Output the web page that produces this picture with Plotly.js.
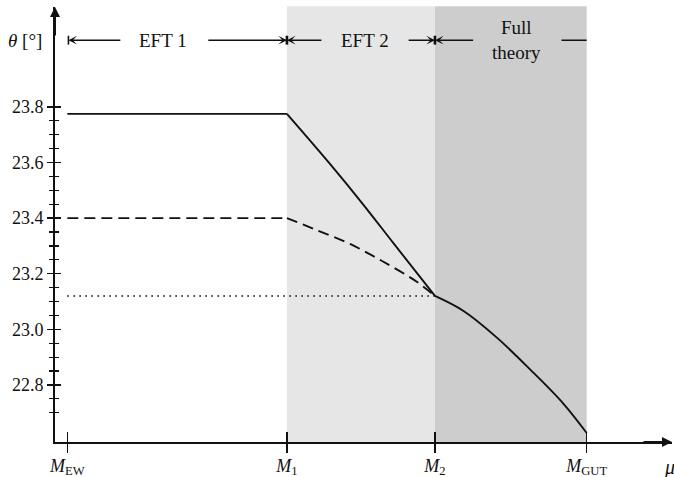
<!DOCTYPE html>
<html>
<head>
<meta charset="utf-8">
<script src="https://cdn.plot.ly/plotly-3.0.1.min.js"></script>
<style>html,body{margin:0;padding:0;background:#fff;}#plot{width:674px;height:477px;}</style>
</head>
<body>
<div id="plot"></div>
<script>
// ---- data ----
const scaleNames = ['<i>M</i><sub>EW</sub>', '<i>M</i><sub>1</sub>', '<i>M</i><sub>2</sub>', '<i>M</i><sub>GUT</sub>'];
const scaleLogMu = [2, 7.92, 11.91, 16];           // position of each matching scale (log mu)
const yTickVals = [22.8, 23.0, 23.2, 23.4, 23.6, 23.8];
const yTickText = ['22.8', '23.0', '23.2', '23.4', '23.6', '23.8'];
const yMinorVals = [22.7, 22.75, 22.85, 22.9, 22.95, 23.05, 23.1, 23.15, 23.25, 23.3, 23.35,
                    23.45, 23.5, 23.55, 23.65, 23.7, 23.75];

const solidMu    = [2, 7.92, 9.08, 9.94, 10.79, 11.91, 12.68, 13.58, 14.48, 15.37, 16];
const solidTheta = [23.775, 23.775, 23.595, 23.455, 23.31, 23.12, 23.066, 22.970, 22.855, 22.733, 22.627];

const dashedMu    = [2, 7.92, 8.72, 9.62, 10.52, 11.42, 11.91];
const dashedTheta = [23.40, 23.40, 23.357, 23.307, 23.243, 23.171, 23.12];

const dottedMu    = [2, 11.91];
const dottedTheta = [23.12, 23.12];

const regionNames = ['EFT 1', 'EFT 2', 'Full<br>theory'];

// ---- chart ----
const [mEW, m1, m2, mGUT] = scaleLogMu;
const xRange = [1.668, 18.30];
const yRange = [22.5946, 24.1594];
const rowY = 24.04;
const font = 'Liberation Serif, Times New Roman, serif';

// split a series at the matching scales so each regime is drawn as its own smooth piece
function pieces(xs, ys, style) {
  const cuts = [m1, m2];
  const out = [];
  let start = 0;
  for (let i = 1; i < xs.length; i++) {
    const isCut = cuts.some(c => Math.abs(xs[i] - c) < 1e-9);
    if (isCut || i === xs.length - 1) {
      out.push({x: xs.slice(start, i + 1), y: ys.slice(start, i + 1), mode: 'lines',
                line: Object.assign({shape: 'spline', smoothing: 1}, style), hoverinfo: 'skip'});
      start = i;
    }
  }
  return out;
}

const traces = [].concat(
  pieces(solidMu, solidTheta, {color: '#111', width: 1.9}),
  pieces(dashedMu, dashedTheta, {color: '#111', width: 1.9, dash: '11px,6px'}),
  [{x: dottedMu, y: dottedTheta, mode: 'lines', line: {color: '#111', width: 1.6, dash: '1.6px,4.4px'}, hoverinfo: 'skip'},
   {x: [], y: [], xaxis: 'x2', yaxis: 'y2', mode: 'lines', hoverinfo: 'skip'}]
);

function arrow(head, tail, hd) {
  return {x: head, y: rowY, ax: tail, ay: rowY, xref: 'x', yref: 'y', axref: 'x', ayref: 'y',
          text: '', showarrow: true, arrowhead: hd, arrowsize: 0.9, arrowwidth: 1.6, arrowcolor: '#111', standoff: 0, startstandoff: 0};
}
function bar(xv, w) {
  return {type: 'line', xref: 'x', yref: 'y', x0: xv, x1: xv, y0: rowY - 0.016, y1: rowY + 0.016,
          line: {color: '#111', width: w}};
}

const annotations = [
  arrow(mEW + 0.03, 3.47, 3),
  arrow(m1, 5.76, 3),
  arrow(m1, 8.89, 3),
  arrow(m2, 11.16, 3),
  arrow(m2, 12.98, 3),
  arrow(mGUT, 15.28, 0),
  {x: 4.58, y: rowY, xref: 'x', yref: 'y', text: regionNames[0], showarrow: false, font: {family: font, size: 19, color: '#111'}},
  {x: 10.03, y: rowY, xref: 'x', yref: 'y', text: regionNames[1], showarrow: false, font: {family: font, size: 19, color: '#111'}},
  {x: 14.11, y: rowY, xref: 'x', yref: 'y', text: regionNames[2], showarrow: false, font: {family: font, size: 19, color: '#111'}},
  // axis title theta
  {x: 0, y: rowY, xref: 'paper', yref: 'y', xanchor: 'right', xshift: -11, text: '<i>θ</i> [°]', showarrow: false,
   font: {family: font, size: 19, color: '#111'}},
  // axis title mu
  {x: 1, y: 0, xref: 'paper', yref: 'paper', xanchor: 'left', yanchor: 'top', xshift: -10, yshift: -12, text: '<i>μ</i>', showarrow: false,
   font: {family: font, size: 20, color: '#111'}},
  // axis arrows
  {x: 0, y: 1, xref: 'paper', yref: 'paper', ax: 0, ay: 30, text: '', showarrow: true, arrowhead: 2, arrowsize: 1, arrowwidth: 2, arrowcolor: '#111', standoff: 0},
  {x: 1, y: 0, xref: 'paper', yref: 'paper', ax: -30, ay: 0, text: '', showarrow: true, arrowhead: 2, arrowsize: 1, arrowwidth: 2, arrowcolor: '#111', standoff: 0}
];

const shapes = [
  {type: 'rect', xref: 'x', yref: 'paper', x0: m1, x1: m2, y0: 0, y1: 1.002, fillcolor: '#e6e6e6', line: {width: 0}, layer: 'below'},
  {type: 'rect', xref: 'x', yref: 'paper', x0: m2, x1: mGUT, y0: 0, y1: 1.002, fillcolor: '#cdcdcd', line: {width: 0}, layer: 'below'},
  bar(mEW + 0.03, 1.6),
  bar(m1, 2.6),
  bar(m2, 2.6)
];

const axFont = {family: font, size: 18, color: '#111'};
const layout = {
  width: 674, height: 477,
  margin: {l: 55, r: 2, t: 7, b: 35},
  paper_bgcolor: '#fff', plot_bgcolor: 'rgba(0,0,0,0)',
  showlegend: false,
  xaxis: {range: xRange, showgrid: false, zeroline: false, showline: true, linecolor: '#111', linewidth: 2,
          tickmode: 'array', tickvals: scaleLogMu, ticktext: scaleNames, ticks: 'inside', ticklen: 10, tickwidth: 1.4,
          tickcolor: '#111', tickfont: axFont, ticklabelstandoff: 6, fixedrange: true},
  xaxis2: {range: xRange, overlaying: 'x', anchor: 'y', side: 'bottom', showgrid: false, zeroline: false, showline: false,
           tickmode: 'array', tickvals: scaleLogMu, ticktext: ['', '', '', ''], ticks: 'outside', ticklen: 10, tickwidth: 1.4,
           tickcolor: '#111', showticklabels: false},
  yaxis: {range: yRange, showgrid: false, zeroline: false, showline: true, linecolor: '#111', linewidth: 2,
          tickmode: 'array', tickvals: yTickVals, ticktext: yTickText, ticks: 'outside', ticklen: 6, tickwidth: 1.4,
          tickcolor: '#111', tickfont: axFont,
          minor: {tickmode: 'array', tickvals: yMinorVals, ticks: 'outside', ticklen: 4, tickwidth: 1.2, tickcolor: '#111', showgrid: false}},
  yaxis2: {range: yRange, overlaying: 'y', anchor: 'x', side: 'left', showgrid: false, zeroline: false, showline: false,
           tickmode: 'array', tickvals: yTickVals, ticks: 'inside', ticklen: 6, tickwidth: 1.4, tickcolor: '#111', showticklabels: false,
           minor: {tickmode: 'array', tickvals: yMinorVals, ticks: 'inside', ticklen: 4, tickwidth: 1.2, tickcolor: '#111', showgrid: false}},
  annotations: annotations,
  shapes: shapes
};

Plotly.newPlot('plot', traces, layout, {displayModeBar: false, staticPlot: true});
</script>
</body>
</html>
